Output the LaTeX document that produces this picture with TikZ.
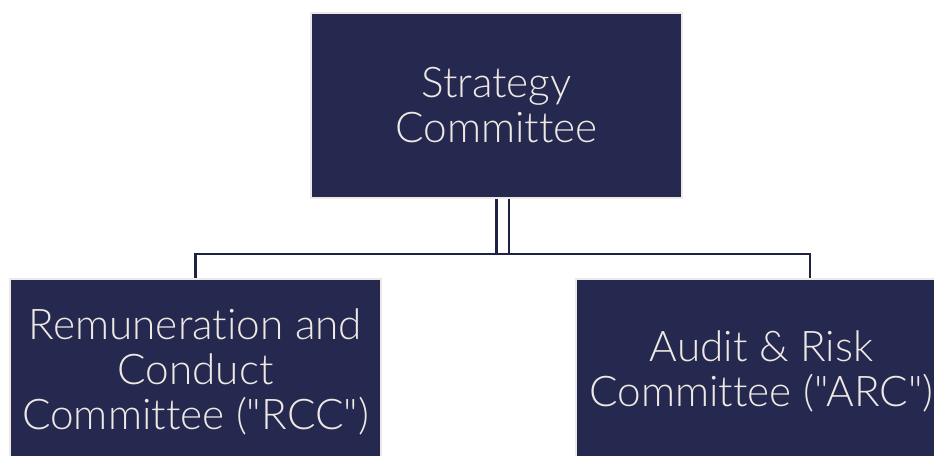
\documentclass[tikz,border=0pt]{standalone}
\usepackage{fontspec}
\setmainfont[Ligatures={TeXOff,NoCommon}]{Lato Light}
\usetikzlibrary{calc}
\definecolor{navy}{RGB}{37,41,79}
\definecolor{linknavy}{RGB}{30,35,68}
\definecolor{paper}{RGB}{238,233,228}
\tikzset{
  unit/.style={draw=paper, line width=2pt, fill=navy, text=paper,
    minimum width=371pt, minimum height=185pt, align=center,
    font=\fontsize{42.3}{45}\selectfont, inner sep=0pt},
  link/.style={draw=linknavy, line width=2.2pt}
}
\begin{document}
\begin{tikzpicture}[x=1pt,y=-1pt]
  \useasboundingbox (0,0) rectangle (934,455);
  \clip (0,0) rectangle (934,455);
  \fill[white] (0,0) rectangle (934,455);

  \node[unit] (sc)  at (496.5,105.5) {Strategy\\Committee};
  \node[unit] (rcc) at (195.5,371.5) {Remuneration and\\Conduct\\Committee ("RCC")};
  \node[unit] (arc) at (761.5,371.5) {Audit \& Risk\\Committee ("ARC")};

  % junction on the bus line and the feed points
  \coordinate (bus) at ($(sc.south)+(0,55)$);
  \coordinate (arcin) at ($(arc.north west)+(235,0)$);

  % double feed from the top box down to the bus
  \draw[link] (sc.south) -- (bus) -- ++(12.5,0) -- ($(sc.south)+(12.5,0)$);
  % bus line with drops to both boxes
  \draw[link] (rcc.north) |- (bus) -| (arcin);
\end{tikzpicture}
\end{document}
